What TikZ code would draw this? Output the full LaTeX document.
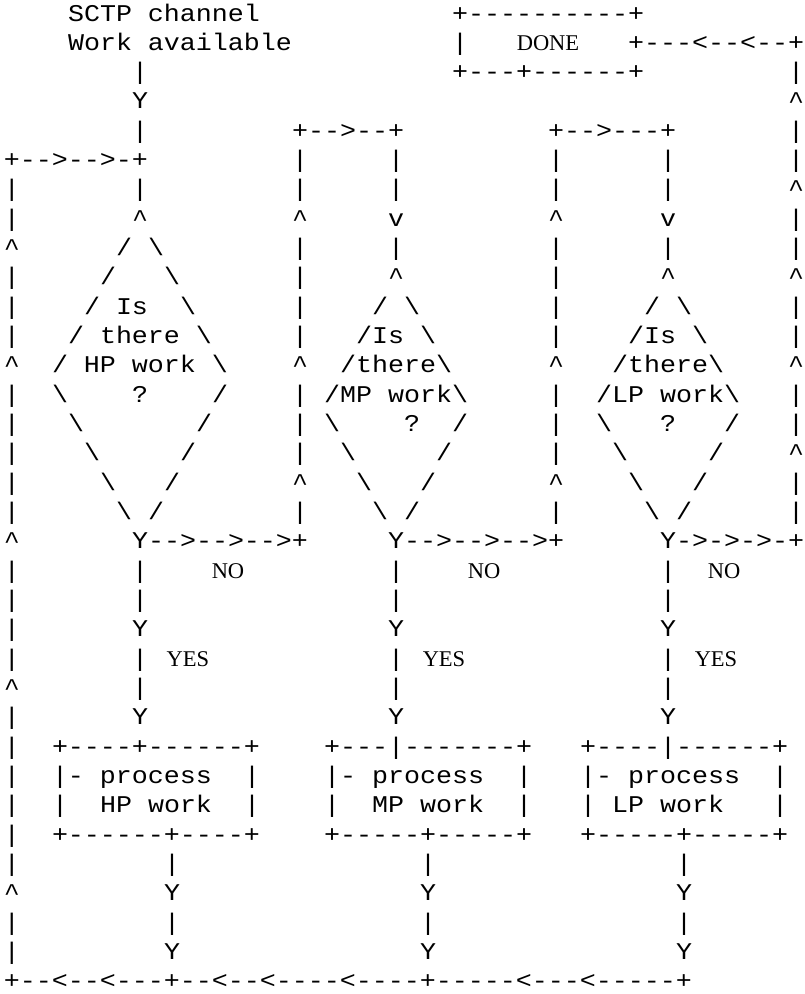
\documentclass[tikz,border=0pt]{standalone}
\usepackage{fontspec}
\setmonofont{Liberation Mono}[FakeStretch=1.1111]
\newfontfamily\serf{Liberation Serif}
\newcommand\bsl{\textbackslash}
\newcommand\crt{\textasciicircum}
\tikzset{
  tt/.style={font=\ttfamily\fontsize{24pt}{29.4pt}\selectfont, inner sep=0pt, outer sep=0pt, anchor=base west},
  sw/.style={font=\serf\fontsize{22.5pt}{26pt}\selectfont, inner sep=0pt, outer sep=0pt, anchor=base},
}
% place text chunk at column #1, row #2
\newcommand\Tx[3]{\node[tt] (r#2c#1) at ({4+16*#1},{-21-29.33*#2}) {#3};}
% serif word: name, centre x, row, text
\newcommand\Sw[4]{\node[sw] (#1) at ({#2-4},{-21-29.33*#3}) {#4};}
\begin{document}
\begin{tikzpicture}[x=1pt,y=1pt]
\fill[white] (0,0) rectangle (804,-994);
\useasboundingbox (0,0) rectangle (804,-994);
% row 0
\Tx{4}{0}{SCTP channel} \Tx{28}{0}{+----------+}
% row 1
\Tx{4}{1}{Work available} \Tx{28}{1}{|} \Tx{39}{1}{+---<--<--+}
\Sw{done}{552}{1}{DONE}
% row 2
\Tx{8}{2}{|} \Tx{28}{2}{+---+------+} \Tx{49}{2}{|}
% row 3
\Tx{8}{3}{Y} \Tx{49}{3}{\crt}
% row 4
\Tx{8}{4}{|} \Tx{18}{4}{+-->--+} \Tx{34}{4}{+-->---+} \Tx{49}{4}{|}
% row 5
\Tx{0}{5}{+-->-->-+} \Tx{18}{5}{|} \Tx{24}{5}{|} \Tx{34}{5}{|} \Tx{41}{5}{|} \Tx{49}{5}{|}
% row 6
\Tx{0}{6}{|} \Tx{8}{6}{|} \Tx{18}{6}{|} \Tx{24}{6}{|} \Tx{34}{6}{|} \Tx{41}{6}{|} \Tx{49}{6}{\crt}
% row 7
\Tx{0}{7}{|} \Tx{8}{7}{\crt} \Tx{18}{7}{\crt} \Tx{24}{7}{v} \Tx{34}{7}{\crt} \Tx{41}{7}{v} \Tx{49}{7}{|}
% row 8
\Tx{0}{8}{\crt} \Tx{7}{8}{/ \bsl} \Tx{18}{8}{|} \Tx{24}{8}{|} \Tx{34}{8}{|} \Tx{41}{8}{|} \Tx{49}{8}{|}
% row 9
\Tx{0}{9}{|} \Tx{6}{9}{/} \Tx{10}{9}{\bsl} \Tx{18}{9}{|} \Tx{24}{9}{\crt} \Tx{34}{9}{|} \Tx{41}{9}{\crt} \Tx{49}{9}{\crt}
% row 10
\Tx{0}{10}{|} \Tx{5}{10}{/ Is} \Tx{11}{10}{\bsl} \Tx{18}{10}{|} \Tx{23}{10}{/ \bsl} \Tx{34}{10}{|} \Tx{40}{10}{/ \bsl} \Tx{49}{10}{|}
% row 11
\Tx{0}{11}{|} \Tx{4}{11}{/ there \bsl} \Tx{18}{11}{|} \Tx{22}{11}{/Is \bsl} \Tx{34}{11}{|} \Tx{39}{11}{/Is \bsl} \Tx{49}{11}{|}
% row 12
\Tx{0}{12}{\crt} \Tx{3}{12}{/ HP work \bsl} \Tx{18}{12}{\crt} \Tx{21}{12}{/there\bsl} \Tx{34}{12}{\crt} \Tx{38}{12}{/there\bsl} \Tx{49}{12}{\crt}
% row 13
\Tx{0}{13}{|} \Tx{3}{13}{\bsl} \Tx{8}{13}{?} \Tx{13}{13}{/} \Tx{18}{13}{|} \Tx{20}{13}{/MP work\bsl} \Tx{34}{13}{|} \Tx{37}{13}{/LP work\bsl} \Tx{49}{13}{|}
% row 14
\Tx{0}{14}{|} \Tx{4}{14}{\bsl} \Tx{12}{14}{/} \Tx{18}{14}{|} \Tx{20}{14}{\bsl} \Tx{25}{14}{?} \Tx{28}{14}{/} \Tx{34}{14}{|} \Tx{37}{14}{\bsl} \Tx{41}{14}{?} \Tx{45}{14}{/} \Tx{49}{14}{|}
% row 15
\Tx{0}{15}{|} \Tx{5}{15}{\bsl} \Tx{11}{15}{/} \Tx{18}{15}{|} \Tx{21}{15}{\bsl} \Tx{27}{15}{/} \Tx{34}{15}{|} \Tx{38}{15}{\bsl} \Tx{44}{15}{/} \Tx{49}{15}{\crt}
% row 16
\Tx{0}{16}{|} \Tx{6}{16}{\bsl} \Tx{10}{16}{/} \Tx{18}{16}{\crt} \Tx{22}{16}{\bsl} \Tx{26}{16}{/} \Tx{34}{16}{\crt} \Tx{39}{16}{\bsl} \Tx{43}{16}{/} \Tx{49}{16}{|}
% row 17
\Tx{0}{17}{|} \Tx{7}{17}{\bsl{} /} \Tx{18}{17}{|} \Tx{23}{17}{\bsl{} /} \Tx{34}{17}{|} \Tx{40}{17}{\bsl{} /} \Tx{49}{17}{|}
% row 18
\Tx{0}{18}{\crt} \Tx{8}{18}{Y-->-->-->+} \Tx{24}{18}{Y-->-->-->+} \Tx{41}{18}{Y->->->-+}
% row 19
\Tx{0}{19}{|} \Tx{8}{19}{|} \Tx{24}{19}{|} \Tx{41}{19}{|}
\Sw{nohp}{232}{19}{NO} \Sw{nomp}{488}{19}{NO} \Sw{nolp}{728}{19}{NO}
% row 20
\Tx{0}{20}{|} \Tx{8}{20}{|} \Tx{24}{20}{|} \Tx{41}{20}{|}
% row 21
\Tx{0}{21}{|} \Tx{8}{21}{Y} \Tx{24}{21}{Y} \Tx{41}{21}{Y}
% row 22
\Tx{0}{22}{|} \Tx{8}{22}{|} \Tx{24}{22}{|} \Tx{41}{22}{|}
\Sw{yeshp}{192}{22}{YES} \Sw{yesmp}{448}{22}{YES} \Sw{yeslp}{720}{22}{YES}
% row 23
\Tx{0}{23}{\crt} \Tx{8}{23}{|} \Tx{24}{23}{|} \Tx{41}{23}{|}
% row 24
\Tx{0}{24}{|} \Tx{8}{24}{Y} \Tx{24}{24}{Y} \Tx{41}{24}{Y}
% row 25
\Tx{0}{25}{|} \Tx{3}{25}{+----+------+} \Tx{20}{25}{+---|-------+} \Tx{36}{25}{+----|------+}
% row 26
\Tx{0}{26}{|} \Tx{3}{26}{|- process} \Tx{15}{26}{|} \Tx{20}{26}{|- process} \Tx{32}{26}{|} \Tx{36}{26}{|- process} \Tx{48}{26}{|}
% row 27
\Tx{0}{27}{|} \Tx{3}{27}{|} \Tx{6}{27}{HP work} \Tx{15}{27}{|} \Tx{20}{27}{|} \Tx{23}{27}{MP work} \Tx{32}{27}{|} \Tx{36}{27}{|} \Tx{38}{27}{LP work} \Tx{48}{27}{|}
% row 28
\Tx{0}{28}{|} \Tx{3}{28}{+------+----+} \Tx{20}{28}{+-----+-----+} \Tx{36}{28}{+-----+-----+}
% row 29
\Tx{0}{29}{|} \Tx{10}{29}{|} \Tx{26}{29}{|} \Tx{42}{29}{|}
% row 30
\Tx{0}{30}{\crt} \Tx{10}{30}{Y} \Tx{26}{30}{Y} \Tx{42}{30}{Y}
% row 31
\Tx{0}{31}{|} \Tx{10}{31}{|} \Tx{26}{31}{|} \Tx{42}{31}{|}
% row 32
\Tx{0}{32}{|} \Tx{10}{32}{Y} \Tx{26}{32}{Y} \Tx{42}{32}{Y}
% row 33
\Tx{0}{33}{+--<--<---+--<--<----<----+-----<---<-----+}
\end{tikzpicture}
\end{document}
